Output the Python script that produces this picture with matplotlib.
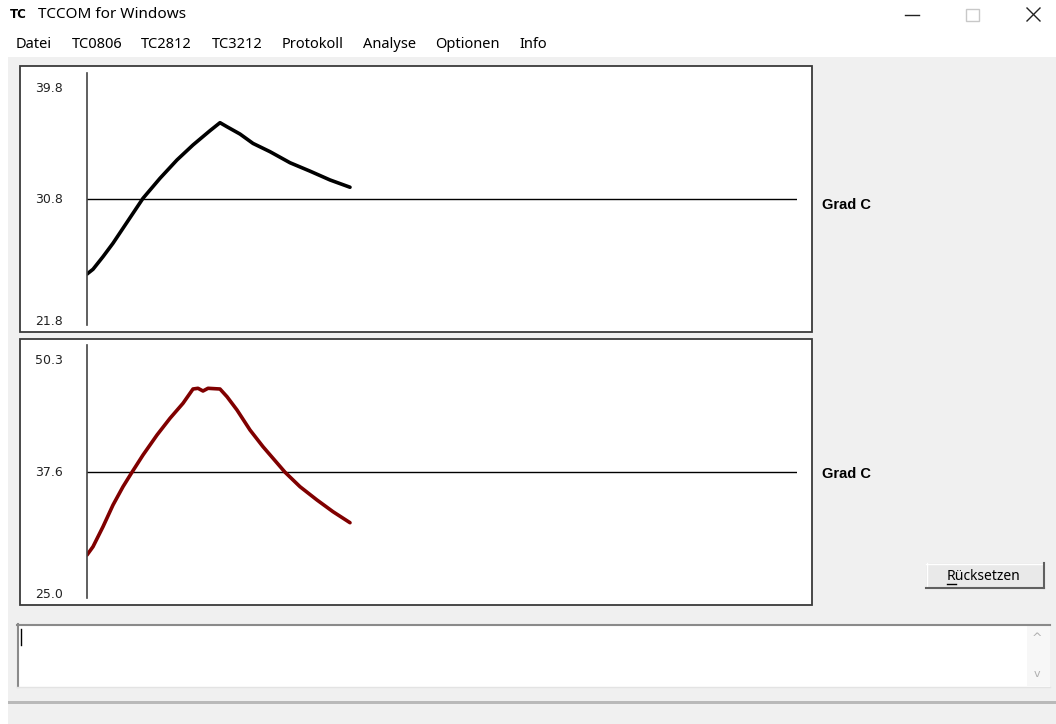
import matplotlib
matplotlib.use("Agg")
import matplotlib.pyplot as plt
from matplotlib.patches import Rectangle
from matplotlib.transforms import blended_transform_factory, offset_copy

W, H, DPI = 1056, 724, 100

# Messwerte (Zeit in Abtastschritten, Temperatur in Grad C)
t_oben = [0, 6, 16, 26, 36, 46, 56, 73, 90, 106, 123, 133,
          140, 153, 166, 183, 203, 223, 243, 263]
temp_oben = [25.44, 25.78, 26.68, 27.64, 28.71, 29.78, 30.85, 32.28, 33.59, 34.66, 35.68, 36.25,
             35.96, 35.44, 34.77, 34.18, 33.39, 32.79, 32.16, 31.64]
t_unten = [0, 6, 16, 26, 36, 45, 56, 70, 83, 96, 106, 111, 116, 121, 133,
           140, 150, 163, 176, 198, 213, 230, 246, 263]
temp_unten = [29.30, 30.13, 32.13, 34.30, 36.13, 37.58, 39.30, 41.30, 42.97, 44.47, 45.90, 45.97,
              45.70, 45.97, 45.90, 45.13, 43.80, 41.80, 40.13, 37.58, 36.13, 34.80, 33.63, 32.53]
skala_oben = [21.8, 30.8, 39.8]
skala_unten = [25.0, 37.6, 50.3]
einheit = "Grad C"
t_max = 710
menu = ["Datei", "TC0806", "TC2812", "TC3212", "Protokoll", "Analyse", "Optionen", "Info"]

UI_FONT = "Noto Sans"
GRAU = "#f0f0f0"

fig = plt.figure(figsize=(W / DPI, H / DPI), dpi=DPI)
fig.patch.set_facecolor("white")

# Hintergrund-Achse in Pixelkoordinaten fuer die Fensterelemente
bg = fig.add_axes([0, 0, 1, 1])
bg.set_xlim(0, W)
bg.set_ylim(H, 0)
bg.axis("off")


def rect(x0, y0, x1, y1, **kw):
    bg.add_patch(Rectangle((x0, y0), x1 - x0, y1 - y0, **kw))


# Fensterflaeche
rect(8, 57, W, H, facecolor=GRAU, edgecolor="none")
rect(8, 701, W, 703.5, facecolor="#b9b9b9", edgecolor="none")

# Titelzeile
bg.text(10, 15, "TC", fontsize=8.5, fontweight="bold", family="DejaVu Sans", va="center")
bg.text(38, 15, "TCCOM for Windows", fontsize=11, family=UI_FONT, va="center")
bg.plot([905, 919], [14.5, 14.5], color="#222", lw=1)
rect(966, 8.5, 978.5, 20.5, facecolor="none", edgecolor="#c8c8c8", lw=1)
bg.plot([1027, 1040], [8, 21], color="#222", lw=1)
bg.plot([1027, 1040], [21, 8], color="#222", lw=1)

# Menue
renderer = fig.canvas.get_renderer()
x = 16
for name in menu:
    t = bg.text(x, 45, name, fontsize=10.5, family=UI_FONT, va="center")
    bb = t.get_window_extent(renderer)
    x += bb.width + 19.3


def panel(y0, y1, ax_y0, ax_y1, t, werte, skala, farbe, dy_einheit):
    rect(20, y0, 812, y1, facecolor="white", edgecolor="#3a3a3a", lw=1.3)
    ax = fig.add_axes([87 / W, 1 - ax_y1 / H, (797 - 87) / W, (ax_y1 - ax_y0) / H])
    ax.patch.set_visible(False)
    ax.set_xlim(0, t_max)
    ax.set_ylim(skala[0], skala[-1])
    for s in ["top", "right", "bottom"]:
        ax.spines[s].set_visible(False)
    ax.spines["left"].set_color("#444444")
    ax.spines["left"].set_linewidth(1.2)
    ax.set_xticks([])
    ax.set_yticks([])
    ax.axhline(skala[1], color="black", lw=1)
    ax.plot(t, werte, color=farbe, lw=2.6, solid_capstyle="round", solid_joinstyle="round")

    trans = blended_transform_factory(bg.transData, ax.transData)
    for wert, dy in zip(skala, [0, -3.0, -14.0]):
        tr = offset_copy(trans, fig=fig, y=dy, units="points")
        ax.text(35, wert, f"{wert:.1f}", transform=tr, fontsize=9,
                family="DejaVu Sans", color="#222", va="baseline", ha="left")
    tr = offset_copy(trans, fig=fig, y=dy_einheit, units="points")
    ax.text(822, skala[1], einheit, transform=tr, fontsize=10.5, fontweight="bold",
            family="Liberation Sans", va="center", ha="left")
    return ax


panel(66, 332, 73, 325, t_oben, temp_oben, skala_oben, "black", -4)
panel(339, 605, 345, 598, t_unten, temp_unten, skala_unten, "#800000", -1.2)

# Knopf "Ruecksetzen"
rect(926, 563, 1044, 588, facecolor="#e9e9e9", edgecolor="none")
bg.plot([926, 1043], [563.5, 563.5], color="white", lw=1)
bg.plot([926.5, 926.5], [563, 587], color="white", lw=1)
bg.plot([926, 1044], [587.5, 587.5], color="#606060", lw=1.5)
bg.plot([1043.5, 1043.5], [563, 588], color="#606060", lw=1.5)
bt = bg.text(947, 576, "Rücksetzen", fontsize=10, family=UI_FONT, va="center", ha="left")
rb = bg.text(947, 576, "R", fontsize=10, family=UI_FONT, va="center", ha="left", alpha=0)
rw = rb.get_window_extent(renderer).width
bg.plot([947, 947 + rw], [584, 584], color="black", lw=1)

# Meldungsfeld mit Bildlaufleiste
rect(17, 624, 1050, 687, facecolor="white", edgecolor="none")
bg.plot([17, 1050], [625, 625], color="#8a8a8a", lw=1.5)
bg.plot([17.5, 17.5], [624, 687], color="#8a8a8a", lw=1.5)
bg.plot([17, 1050], [687, 687], color="#e3e3e3", lw=1)
rect(1027, 626, 1050, 686, facecolor="#f7f7f7", edgecolor="none")
bg.text(1037, 638, "^", fontsize=9, color="#b0b0b0", ha="center", va="center", family="DejaVu Sans")
bg.text(1037, 674, "v", fontsize=8, color="#b0b0b0", ha="center", va="center", family="DejaVu Sans")
bg.plot([21, 21], [629, 645], color="black", lw=1)

fig.savefig("out.png", dpi=DPI, facecolor=fig.get_facecolor())
